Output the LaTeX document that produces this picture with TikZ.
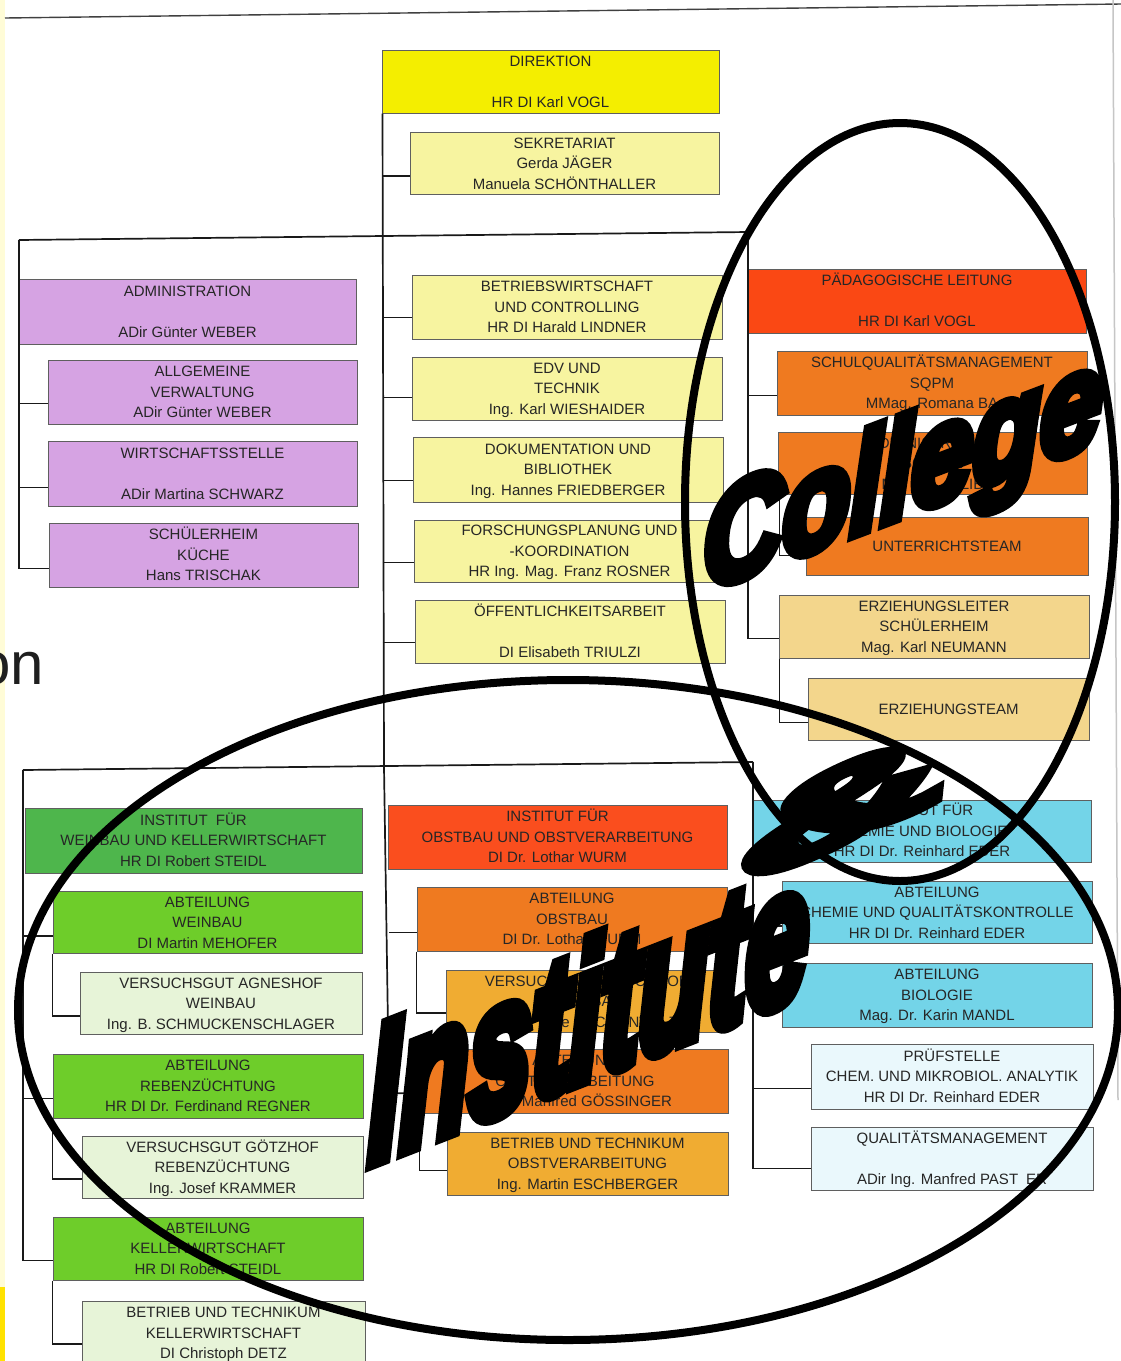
\documentclass[tikz,border=0pt]{standalone}
\usepackage{fontspec}
\setmainfont{Liberation Sans}
\newfontfamily\wordartfont{Liberation Sans Bold Italic}[FakeBold=8]
\usetikzlibrary{calc}
\definecolor{boxline}{RGB}{95,95,95}
\definecolor{txt}{RGB}{38,38,38}
\definecolor{linec}{RGB}{25,25,25}
\definecolor{cdir}{RGB}{244,238,0}
\definecolor{cly}{RGB}{247,244,160}
\definecolor{cpur}{RGB}{214,163,227}
\definecolor{cpaed}{RGB}{250,72,20}
\definecolor{corg}{RGB}{239,122,32}
\definecolor{cbeige}{RGB}{243,214,140}
\definecolor{cgrn}{RGB}{78,182,76}
\definecolor{cbgrn}{RGB}{110,205,42}
\definecolor{clgrn}{RGB}{231,244,216}
\definecolor{cred}{RGB}{250,78,30}
\definecolor{cyo}{RGB}{240,172,50}
\definecolor{ccyan}{RGB}{115,212,232}
\definecolor{clcyan}{RGB}{234,248,252}
\definecolor{edgey}{RGB}{255,252,215}
\definecolor{edgeyy}{RGB}{255,226,0}
\newcommand\rowstrut{\rule[-4.85pt]{0pt}{20.5pt}}
\newcommand\rws[3]{\rowstrut #1\\\rowstrut #2\\\rowstrut #3}
\begin{document}
\begin{tikzpicture}[x=1pt,y=-1pt,
  obox/.style={draw=boxline, line width=1pt, inner sep=0pt, align=center, text=txt,
               font=\fontsize{15}{20.5}\selectfont},
  wh/.style 2 args={minimum width=#1pt, minimum height=#2pt},
  conn/.style={draw=linec, line width=1.7pt},
  ring/.style={draw=black, line width=8pt},
  wa/.style={inner sep=0pt, transform shape, text=black}]
\useasboundingbox (0,0) rectangle (1121,1361);
\fill[white] (0,0) rectangle (1121,1361);
\fill[edgey] (0,0) rectangle (5,1361);
\fill[edgeyy] (0,1287) rectangle (5,1361);
\draw[gray!50!black, line width=1.4pt] (5,18) -- (1121,4);
\draw[gray!45, line width=1.5pt] (1113,0) -- (1118,1100);
\node[anchor=base east, inner sep=0pt, text=black!88, font=\fontsize{60}{60}\selectfont] (onlbl) at (44,684) {on};

% ---------- top ----------
\node[obox, fill=cdir, wh={337}{63}] (dir) at (550.5,81.5) {\rws{DIREKTION}{}{HR DI Karl VOGL}};
\node[obox, fill=cly, wh={309}{61}] (sek) at (564.5,163.5) {\rws{SEKRETARIAT}{Gerda JÄGER}{Manuela SCHÖNTHALLER}};

% ---------- left column ----------
\node[obox, fill=cpur, wh={337}{65}] (adm) at (187.5,311.5) {\rws{ADMINISTRATION}{}{ADir Günter WEBER}};
\node[obox, fill=cpur, wh={309}{64}] (allg) at (202.5,392) {\rws{ALLGEMEINE}{VERWALTUNG}{ADir Günter WEBER}};
\node[obox, fill=cpur, wh={309}{65}] (wirt) at (202.5,473.5) {\rws{WIRTSCHAFTSSTELLE}{}{ADir Martina SCHWARZ}};
\node[obox, fill=cpur, wh={309}{64}] (kueche) at (203.5,555) {\rws{SCHÜLERHEIM}{KÜCHE}{Hans TRISCHAK}};

% ---------- centre staff ----------
\node[obox, fill=cly, wh={310}{64}] (bwl) at (567,307) {\rws{BETRIEBSWIRTSCHAFT}{UND CONTROLLING}{HR DI Harald LINDNER}};
\node[obox, fill=cly, wh={310}{63}] (edv) at (567,388.5) {\rws{EDV UND}{TECHNIK}{Ing. Karl WIESHAIDER}};
\node[obox, fill=cly, wh={310}{65}] (doku) at (568,469.5) {\rws{DOKUMENTATION UND}{BIBLIOTHEK}{Ing. Hannes FRIEDBERGER}};
\node[obox, fill=cly, wh={311}{62}] (forsch) at (569.5,551) {\rws{FORSCHUNGSPLANUNG UND}{-KOORDINATION}{HR Ing. Mag. Franz ROSNER}};
\node[obox, fill=cly, wh={310}{63}] (oeff) at (570,631.5) {\rws{ÖFFENTLICHKEITSARBEIT}{}{DI Elisabeth TRIULZI}};

% ---------- right column (college) ----------
\node[obox, fill=cpaed, wh={338}{64}] (paed) at (917,301) {\rws{PÄDAGOGISCHE LEITUNG}{}{HR DI Karl VOGL}};
\node[obox, fill=corg, wh={310}{64}] (sqpm) at (932,383) {\rws{SCHULQUALITÄTSMANAGEMENT}{SQPM}{MMag. Romana BA\hspace{30pt}}};
\node[obox, fill=corg, wh={309}{61}] (admsch) at (932.5,463.5) {\rws{ADMINISTRATION}{SCHULE}{M\hspace{26pt}H\hspace{30pt}LIB\hspace{30pt}}};
\node[obox, fill=corg, wh={282}{58}] (unt) at (947,546) {\rowstrut UNTERRICHTSTEAM};
\node[obox, fill=cbeige, wh={310}{63}] (erzl) at (934,626.5) {\rws{ERZIEHUNGSLEITER}{SCHÜLERHEIM}{Mag. Karl NEUMANN}};
\node[obox, fill=cbeige, wh={281}{62}] (erzt) at (948.5,709) {\rowstrut ERZIEHUNGSTEAM};

% ---------- institute Weinbau ----------
\node[obox, fill=cgrn, wh={337}{65}] (iwk) at (193.5,840.5) {\rws{INSTITUT\ \ FÜR}{WEINBAU UND KELLERWIRTSCHAFT}{HR DI Robert STEIDL}};
\node[obox, fill=cbgrn, wh={309}{61}] (awb) at (207.5,922.5) {\rws{ABTEILUNG}{WEINBAU}{DI Martin MEHOFER}};
\node[obox, fill=clgrn, wh={282}{61}] (vag) at (221,1003.5) {\rws{VERSUCHSGUT AGNESHOF}{WEINBAU}{Ing. B. SCHMUCKENSCHLAGER}};
\node[obox, fill=cbgrn, wh={310}{64}] (arz) at (208,1086) {\rws{ABTEILUNG}{REBENZÜCHTUNG}{HR DI Dr. Ferdinand REGNER}};
\node[obox, fill=clgrn, wh={281}{61}] (vgz) at (222.5,1167.5) {\rws{VERSUCHSGUT GÖTZHOF}{REBENZÜCHTUNG}{Ing. Josef KRAMMER}};
\node[obox, fill=cbgrn, wh={310}{63}] (akw) at (208,1248.5) {\rws{ABTEILUNG}{KELLERWIRTSCHAFT}{HR DI Robert STEIDL}};
\node[obox, fill=clgrn, wh={283}{63}] (btk) at (223.5,1333) {\rws{BETRIEB UND TECHNIKUM}{KELLERWIRTSCHAFT}{DI Christoph DETZ}};

% ---------- institute Obstbau ----------
\node[obox, fill=cred, wh={339}{64}] (iob) at (557.5,837) {\rws{INSTITUT FÜR}{OBSTBAU UND OBSTVERARBEITUNG}{DI Dr. Lothar WURM}};
\node[obox, fill=corg, wh={310}{64}] (aob) at (572,919) {\rws{ABTEILUNG}{OBSTBAU}{DI Dr. Lothar WURM}};
\node[obox, fill=cyo, wh={281}{61}] (vho) at (586.5,1001.5) {\rws{VERSUCHSGUT HASCHHOF}{OBSTBAU}{Ing.\hspace{41pt}e\hspace{21pt}IC\hspace{23pt}NW\hspace{15pt}Z}};
\node[obox, fill=corg, wh={306}{64}] (aov) at (575,1081) {\rws{ABTEILUNG}{OBSTVERARBEITUNG}{\hspace{44pt}Manfred GÖSSINGER}};
\node[obox, fill=cyo, wh={281}{63}] (bto) at (587.5,1163.5) {\rws{BETRIEB UND TECHNIKUM}{OBSTVERARBEITUNG}{Ing. Martin ESCHBERGER}};

% ---------- institute Chemie ----------
\node[obox, fill=ccyan, wh={338}{62}] (icb) at (922,831) {\rws{INSTITUT FÜR}{CHEMIE UND BIOLOGIE}{HR DI Dr. Reinhard EDER}};
\node[obox, fill=ccyan, wh={310}{61}] (acq) at (937,912.5) {\rws{ABTEILUNG}{CHEMIE UND QUALITÄTSKONTROLLE}{HR DI Dr. Reinhard EDER}};
\node[obox, fill=ccyan, wh={310}{64}] (abi) at (937,995) {\rws{ABTEILUNG}{BIOLOGIE}{Mag. Dr. Karin MANDL}};
\node[obox, fill=clcyan, wh={282}{65}] (pruef) at (952,1076.5) {\rws{PRÜFSTELLE}{CHEM. UND MIKROBIOL. ANALYTIK}{HR DI Dr. Reinhard EDER}};
\node[obox, fill=clcyan, wh={282}{63}] (qm) at (952,1158.5) {\rws{QUALITÄTSMANAGEMENT}{}{ADir Ing. Manfred PAST\hspace{8pt}ER}};

% ---------- connector anchor points ----------
\coordinate (cTop) at ([xshift=1pt]dir.south west);
\coordinate (barL) at (19,240);
\coordinate (barR) at (748,232);
\coordinate (cMid) at (384,767);
\coordinate (cLow) at (389,1093);
\coordinate (ibarL) at (23,770);
\coordinate (ibarR) at (753,762);
\coordinate (sekL) at ([yshift=19pt]sek.south west);
\coordinate (allgL) at ([yshift=21pt]allg.south west);
\coordinate (wirtL) at ([yshift=19pt]wirt.south west);
\coordinate (kuecheL) at ([yshift=19pt]kueche.south west);
\coordinate (bwlL) at ([yshift=22pt]bwl.south west);
\coordinate (edvL) at ([yshift=23pt]edv.south west);
\coordinate (dokuL) at ([yshift=22pt]doku.south west);
\coordinate (forschL) at ([yshift=20pt]forsch.south west);
\coordinate (oeffL) at ([yshift=21pt]oeff.south west);
\coordinate (sqpmL) at ([yshift=20pt]sqpm.south west);
\coordinate (admschL) at ([yshift=17pt]admsch.south west);
\coordinate (untL) at ([yshift=20pt]unt.south west);
\coordinate (erzlL) at ([yshift=20pt]erzl.south west);
\coordinate (erztL) at ([yshift=18pt]erzt.south west);
\coordinate (awbL) at ([yshift=18pt]awb.south west);
\coordinate (vagL) at ([yshift=19pt]vag.south west);
\coordinate (arzL) at ([yshift=20pt]arz.south west);
\coordinate (vgzL) at ([yshift=20pt]vgz.south west);
\coordinate (akwL) at ([yshift=20pt]akw.south west);
\coordinate (btkL) at ([yshift=21pt]btk.south west);
\coordinate (aobL) at ([yshift=19pt]aob.south west);
\coordinate (vhoL) at ([yshift=20pt]vho.south west);
\coordinate (aovL) at ([yshift=20pt]aov.south west);
\coordinate (btoL) at ([yshift=25pt]bto.south west);
\coordinate (acqL) at ([yshift=18pt]acq.south west);
\coordinate (abiL) at ([yshift=19pt]abi.south west);
\coordinate (pruefL) at ([yshift=21pt]pruef.south west);
\coordinate (qmL) at ([yshift=22pt]qm.south west);

% ---------- connectors ----------
\draw[conn] (cTop) -- (cMid) -- (cLow);
\draw[conn] (barL) -- (barR);
\draw[conn] (ibarL) -- (ibarR);
\draw[conn] (cTop |- sekL) -- (sekL);
\draw[conn] (cTop |- bwlL) -- (bwlL);
\draw[conn] (cTop |- edvL) -- (edvL);
\draw[conn] (cTop |- dokuL) -- (dokuL);
\draw[conn] (cTop |- forschL) -- (forschL);
\draw[conn] (cTop |- oeffL) -- (oeffL);
\draw[conn] (barL) |- (kuecheL);
\draw[conn] (barL |- allgL) -- (allgL);
\draw[conn] (barL |- wirtL) -- (wirtL);
\draw[conn] (barR) |- (erzlL);
\draw[conn] (barR |- sqpmL) -- (sqpmL);
\draw[conn] (barR |- admschL) -- (admschL);
\draw[conn] ([xshift=2pt]admsch.south west) |- (untL);
\draw[conn] ([xshift=1pt]erzl.south west) |- (erztL);
\draw[conn] (ibarL) |- (akwL);
\draw[conn] (ibarL |- awbL) -- (awbL);
\draw[conn] (ibarL |- arzL) -- (arzL);
\draw[conn] (awb.south west) |- (vagL);
\draw[conn] (arz.south west) |- (vgzL);
\draw[conn] (akw.south west) |- (btkL);
\draw[conn] (cLow |- aobL) -- (aobL);
\draw[conn] (cLow) -- (aovL);
\draw[conn] (aob.south west) |- (vhoL);
\draw[conn] ([xshift=-2pt]aov.south west) |- (btoL);
\draw[conn] (ibarR) |- (qmL);
\draw[conn] (ibarR |- acqL) -- (acqL);
\draw[conn] (ibarR |- abiL) -- (abiL);
\draw[conn] (ibarR |- pruefL) -- (pruefL);

% ---------- overlays ----------
\draw[ring] (900,502) ellipse [x radius=215pt, y radius=379pt];
\draw[ring] (568,1010) ellipse [x radius=550pt, y radius=330pt];
\begin{scope}[shift={(703,592)}, yslant=0.38, xscale=0.8]
  \node[wa, anchor=base west, font=\wordartfont\fontsize{138}{138}\selectfont] (college) at (0,0) {College};
\end{scope}
\begin{scope}[shift={(368,1164)}, yslant=0.39, xscale=0.59]
  \node[wa, anchor=base west, font=\wordartfont\fontsize{192}{192}\selectfont] (institute) at (0,0) {Institute};
\end{scope}
\begin{scope}[shift={(840,806)}, rotate=24, xscale=1.65, yscale=0.55]
  \node[wa, anchor=center, font=\wordartfont\fontsize{185}{185}\selectfont] (amp) at (0,0) {\&};
\end{scope}
\end{tikzpicture}
\end{document}
